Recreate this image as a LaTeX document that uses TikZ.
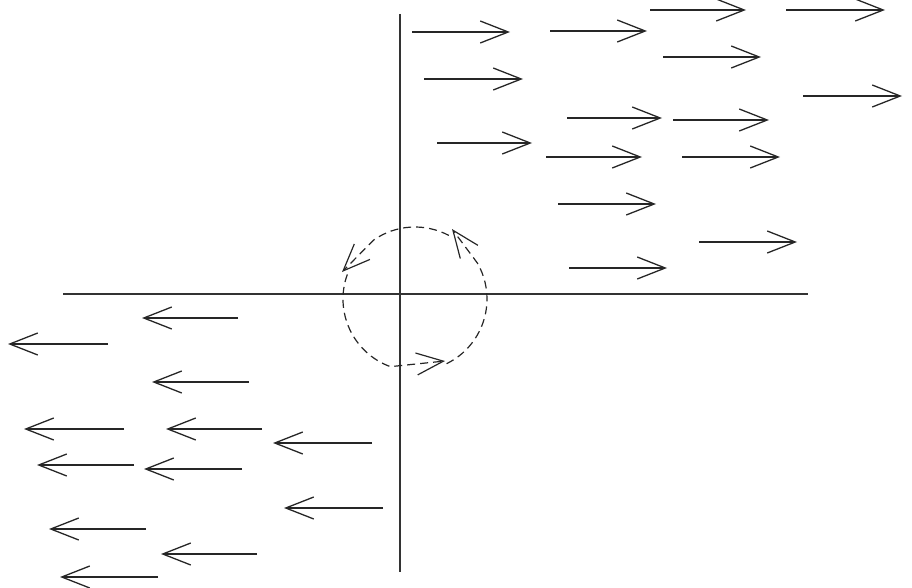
\documentclass[tikz,border=0pt]{standalone}
\usetikzlibrary{arrows.meta}

\begin{document}
\begin{tikzpicture}[x=1pt, y=-1pt]

\tikzset{
  axisline/.style={line width=1.4pt, black!80},
  flowarrow/.style={-{Straight Barb[length=28pt, width=22pt]},
    line width=1.3pt, black!85},
  spinarc/.style={-{Straight Barb[length=27pt, width=22pt]},
    line width=1.2pt, black!85, dash pattern=on 8pt off 5pt}
}

\useasboundingbox (0,0) rectangle (912,588);

% axes
\coordinate (ytop) at (400,14);
\coordinate (ybot) at (400,572);
\coordinate (xleft) at (63,294);
\coordinate (xright) at (808,294);
\draw[axisline] (ytop) -- (ybot);
\draw[axisline] (xleft) -- (xright);

% flow to the right, upper half
\foreach \xa/\xb/\yy in {412/510/32, 550/647/31, 650/746/10, 786/885/10,
    663/761/57, 424/523/79, 803/902/96, 567/662/118, 673/769/120,
    437/532/143, 546/642/157, 682/780/157, 558/656/204, 699/797/242,
    569/667/268}
  \draw[flowarrow] (\xa,\yy) -- (\xb,\yy);

% flow to the left, lower half
\foreach \xa/\xb/\yy in {238/142/318, 108/8/344, 249/152/382, 124/24/429,
    262/166/429, 372/273/443, 134/37/465, 242/144/469, 383/284/508,
    146/49/529, 257/161/554, 158/60/577}
  \draw[flowarrow] (\xa,\yy) -- (\xb,\yy);

% rotation around the origin
\coordinate (hub) at (415,299);
\coordinate (tipne) at (452,229);
\coordinate (tipw) at (342,272);
\coordinate (tips) at (445,361);
\draw[spinarc] ([shift={(64:72)}]hub) arc[start angle=64, end angle=-30, radius=72]
  -- (tipne);
\draw[spinarc] ([shift={(-62:72)}]hub) arc[start angle=-62, end angle=-125, radius=72]
  -- (tipw);
\draw[spinarc] ([shift={(-160:72)}]hub) arc[start angle=-160, end angle=-250, radius=72]
  -- (tips);

\end{tikzpicture}
\end{document}
